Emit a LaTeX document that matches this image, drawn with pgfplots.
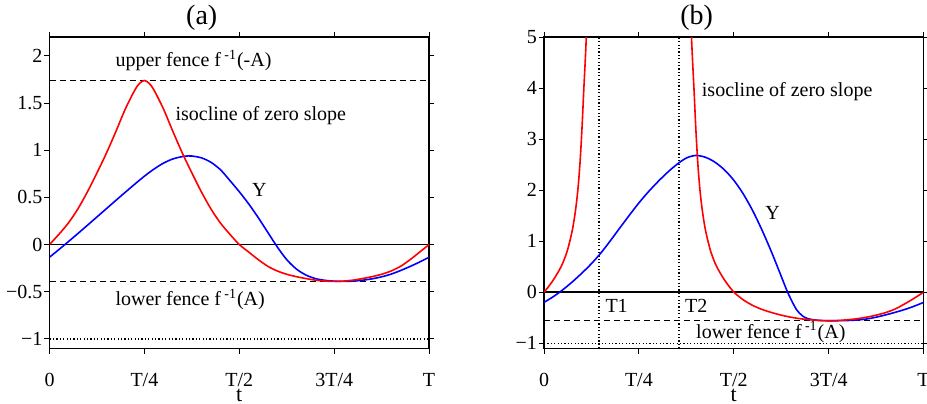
\documentclass[border=0pt]{standalone}
\usepackage{fontspec}
\setmainfont{Liberation Serif}
\usepackage{pgfplots}
\pgfplotsset{compat=1.18}
\begin{document}
\begin{tikzpicture}
\pgfplotsset{
 panel/.style={
  scale only axis, width=189.8pt, height=155.6pt,
  xmin=0, xmax=1,
  xtick={0,0.25,0.5,0.75,1},
  xticklabels={0,T/4,T/2,3T/4,T},
  tick align=outside, major tick length=2.6pt,
  axis line style={line width=0.7pt},
  every tick/.style={black, line width=0.5pt},
  font=\fontsize{10}{12}\selectfont,
  xticklabel style={anchor=base, yshift=-16.6pt},
  yticklabel style={inner xsep=0.8pt},
  xlabel={t},
  xlabel style={at={(axis description cs:0.5,0)}, anchor=base, yshift=-26.35pt, font=\fontsize{11}{13}\selectfont},
  title style={anchor=base, yshift=0.25pt, font=\fontsize{14}{16}\selectfont},
 },
 fence/.style={black, line width=0.7pt, dash pattern=on 3pt off 2pt},
 dotl/.style={black, line width=0.7pt, dash pattern=on 0.6pt off 1.1pt},
 zerol/.style={black, line width=0.7pt},
 redc/.style={red, line width=0.8pt, smooth},
 bluec/.style={blue, line width=0.8pt, smooth},
}
% ---------------- panel (a)
\begin{axis}[panel, at={(24.75pt,27.35pt)}, anchor=south west,
  ymin=-1.1, ymax=2.2,
  ytick={-1,-0.5,0,0.5,1,1.5,2},
  yticklabels={−1,−0.5,0,0.5,1,1.5,2},
  title={(a)}, title style={at={(axis description cs:0.401,1)}}]
\addplot[zerol] coordinates {(0,0) (1,0)};
\addplot[fence] coordinates {(0,1.74) (1,1.74)};
\addplot[fence] coordinates {(0,-0.39) (1,-0.39)};
\addplot[dotl] coordinates {(0,-1) (1,-1)};
\addplot[bluec] coordinates {
(0,-0.134) (0.025,-0.052) (0.05,0.032) (0.075,0.118) (0.1,0.205) (0.125,0.293)
(0.15,0.381) (0.175,0.469) (0.2,0.556) (0.225,0.642) (0.25,0.725) (0.275,0.800)
(0.3,0.863) (0.325,0.908) (0.35,0.933) (0.365,0.940) (0.375,0.939) (0.4,0.92)
(0.425,0.873) (0.45,0.795) (0.475,0.68) (0.5,0.56) (0.525,0.43) (0.55,0.285)
(0.575,0.13) (0.6,-0.025) (0.625,-0.16) (0.65,-0.258) (0.675,-0.322) (0.7,-0.36)
(0.725,-0.379) (0.75,-0.388) (0.775,-0.391) (0.8,-0.387) (0.825,-0.378)
(0.85,-0.363) (0.875,-0.342) (0.9,-0.313) (0.925,-0.275) (0.95,-0.232)
(0.975,-0.185) (1,-0.134)};
\addplot[redc] coordinates {
(0,0) (0.025,0.11) (0.05,0.23) (0.075,0.38) (0.1,0.56) (0.125,0.76)
(0.15,0.97) (0.175,1.20) (0.2,1.44) (0.225,1.64) (0.2375,1.71) (0.25,1.74)
(0.2625,1.71) (0.275,1.64) (0.3,1.44) (0.325,1.20) (0.35,0.97) (0.375,0.76)
(0.4,0.56) (0.425,0.38) (0.45,0.23) (0.475,0.11) (0.5,0) (0.525,-0.08)
(0.55,-0.16) (0.575,-0.23) (0.6,-0.28) (0.625,-0.315) (0.65,-0.34)
(0.675,-0.36) (0.7,-0.377) (0.725,-0.387) (0.75,-0.39) (0.775,-0.387)
(0.8,-0.377) (0.825,-0.36) (0.85,-0.34) (0.875,-0.315) (0.9,-0.28)
(0.925,-0.23) (0.95,-0.16) (0.975,-0.08) (1,0)};
\node[anchor=base west, inner sep=0pt] at (axis cs:0.173,1.884) {upper fence f\,\textsuperscript{-1}(-A)};
\node[anchor=base west, inner sep=0pt] at (axis cs:0.331,1.312) {isocline of zero slope};
\node[anchor=base west, inner sep=0pt] at (axis cs:0.533,0.508) {Y};
\node[anchor=base west, inner sep=0pt] at (axis cs:0.173,-0.649) {lower fence f\,\textsuperscript{-1}(A)};
\end{axis}
% ---------------- panel (b)
\begin{axis}[panel, at={(272pt,27.35pt)}, anchor=south west,
  ymin=-1.1, ymax=5,
  ytick={-1,0,1,2,3,4,5},
  yticklabels={−1,0,1,2,3,4,5},
  title={(b)}, title style={at={(axis description cs:0.402,1)}}]
\addplot[zerol] coordinates {(0,0) (1,0)};
\addplot[fence] coordinates {(0,-0.56) (1,-0.56)};
\addplot[dotl] coordinates {(0,-1) (1,-1)};
\addplot[dotl] coordinates {(0.145,-1.1) (0.145,5)};
\addplot[dotl] coordinates {(0.356,-1.1) (0.356,5)};
\addplot[bluec] coordinates {
(0,-0.2) (0.025,-0.085) (0.05,0.05) (0.075,0.205) (0.1,0.375) (0.125,0.56)
(0.15,0.77) (0.175,1.01) (0.2,1.262) (0.225,1.51) (0.25,1.75) (0.275,1.968)
(0.3,2.165) (0.325,2.346) (0.35,2.505) (0.375,2.63) (0.4,2.68) (0.425,2.645)
(0.45,2.55) (0.475,2.40) (0.5,2.194) (0.525,1.925) (0.55,1.594) (0.575,1.206)
(0.6,0.775) (0.625,0.31) (0.64,0.03) (0.65,-0.13) (0.665,-0.34) (0.68,-0.46)
(0.692,-0.51) (0.705,-0.535) (0.72,-0.55) (0.74,-0.558) (0.76,-0.56)
(0.775,-0.559) (0.8,-0.555) (0.825,-0.545) (0.85,-0.525) (0.875,-0.49)
(0.9,-0.445) (0.925,-0.395) (0.95,-0.34) (0.975,-0.275) (1,-0.2)};
\addplot[redc] coordinates {
(0,0) (0.01,0.09) (0.025,0.245) (0.04,0.43) (0.05,0.58) (0.06,0.78)
(0.065,0.91) (0.07,1.06) (0.075,1.23) (0.08,1.45) (0.085,1.72) (0.09,2.07)
(0.095,2.55) (0.1,3.2) (0.105,4.0) (0.11,4.75) (0.114,5.5)};
\addplot[redc] coordinates {
(0.386,5.5) (0.39,4.75) (0.395,4.0) (0.4,3.2) (0.405,2.55) (0.41,2.07)
(0.415,1.72) (0.42,1.45) (0.425,1.23) (0.43,1.06) (0.435,0.91) (0.44,0.78)
(0.45,0.58) (0.46,0.43) (0.475,0.245) (0.49,0.09) (0.5,0) (0.525,-0.15)
(0.55,-0.26) (0.575,-0.34) (0.6,-0.40) (0.625,-0.45) (0.65,-0.49)
(0.675,-0.52) (0.7,-0.54) (0.725,-0.555) (0.75,-0.56) (0.775,-0.555)
(0.8,-0.54) (0.825,-0.52) (0.85,-0.49) (0.875,-0.45) (0.9,-0.40)
(0.925,-0.33) (0.95,-0.23) (0.975,-0.12) (1,0)};
\node[anchor=base west, inner sep=0pt] at (axis cs:0.415,3.84) {isocline of zero slope};
\node[anchor=base west, inner sep=0pt] at (axis cs:0.582,1.415) {Y};
\node[anchor=base west, inner sep=0pt] at (axis cs:0.161,-0.40) {T1};
\node[anchor=base west, inner sep=0pt] at (axis cs:0.371,-0.40) {T2};
\node[anchor=base west, inner sep=0pt] at (axis cs:0.40,-0.90) {lower fence f\,\textsuperscript{-1}(A)};
\end{axis}
\pgfresetboundingbox
\path[use as bounding box] (0,0) rectangle (463.5pt,201.5pt);
\end{tikzpicture}
\end{document}
